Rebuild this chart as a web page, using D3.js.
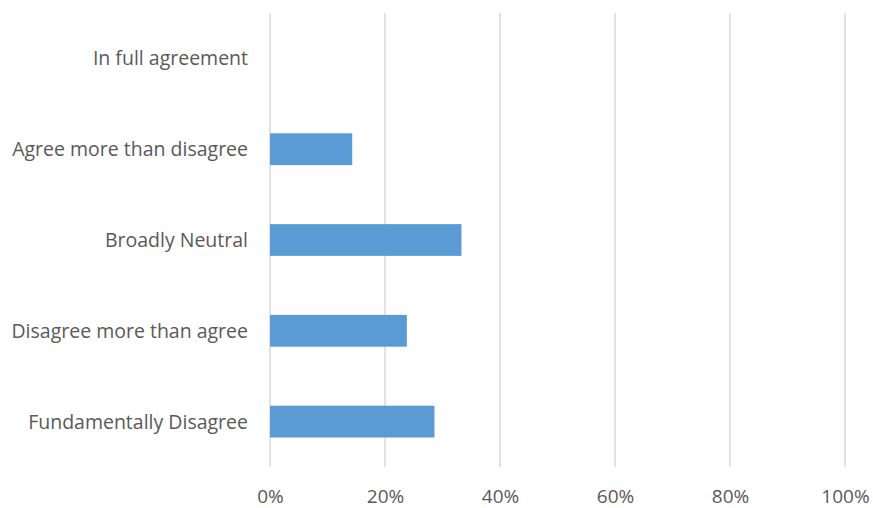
<!DOCTYPE html>
<html><head><meta charset="utf-8">
<script src="https://cdn.jsdelivr.net/npm/d3@7"></script>
<style>body{margin:0;background:#fff;} text{font-family:"Open Sans", sans-serif;}</style>
</head><body><svg id="c" width="873" height="508"></svg>
<script>
const categories = ["In full agreement","Agree more than disagree","Broadly Neutral","Disagree more than agree","Fundamentally Disagree"];
const values = [0, 0.143, 0.333, 0.238, 0.286];
const ticks = [0,0.2,0.4,0.6,0.8,1.0];

const svg = d3.select("#c");
const m = {left:270, right:28, top:13, bottom:41};
const W = 873, H = 508;
const x = d3.scaleLinear().domain([0,1]).range([m.left, W-m.right]);
const y = d3.scaleBand().domain(categories).range([m.top, H-m.bottom]).paddingInner(0.65).paddingOuter(0.325);

svg.append("g").selectAll("line").data(ticks).join("line")
  .attr("x1",d=>x(d)).attr("x2",d=>x(d)).attr("y1",m.top).attr("y2",H-m.bottom)
  .attr("stroke","#d9d9d9").attr("stroke-width",1.5);

svg.append("g").selectAll("rect").data(categories).join("rect")
  .attr("x",x(0)).attr("y",d=>y(d)).attr("height",y.bandwidth())
  .attr("width",(d,i)=>x(values[i])-x(0)).attr("fill","#5b9bd5");

const xa = svg.append("g").attr("transform",`translate(0,${H-m.bottom})`)
  .call(d3.axisBottom(x).tickValues(ticks).tickFormat(d3.format(".0%")).tickSize(0).tickPadding(21));
xa.select(".domain").remove();
xa.selectAll("text").attr("fill","#595959").attr("font-size",19).attr("font-family","Open Sans").attr("dy","0.8em");

const ya = svg.append("g").attr("transform",`translate(${m.left},0)`)
  .call(d3.axisLeft(y).tickSize(0).tickPadding(22));
ya.select(".domain").remove();
ya.selectAll("text").attr("fill","#595959").attr("font-size",19.5).attr("font-family","Open Sans").attr("dy","0.36em");
</script></body></html>
